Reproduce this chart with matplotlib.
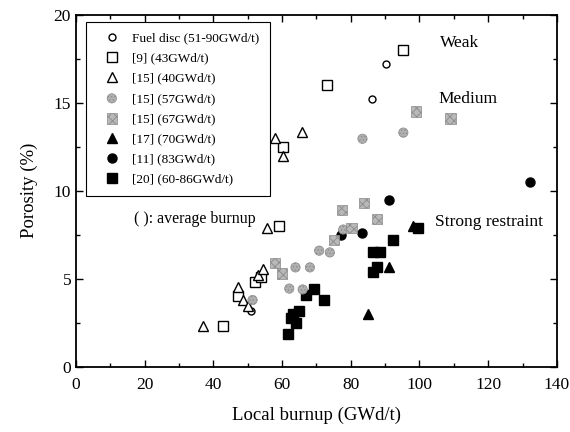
import numpy as np
import matplotlib
matplotlib.use('Agg')
import matplotlib.pyplot as plt
from matplotlib.ticker import MultipleLocator

plt.rcParams['font.family'] = ['Liberation Serif', 'DejaVu Serif']
plt.rcParams['hatch.linewidth'] = 0.6

# fuel disc (51-90GWd/t)
disc_x = [51.0, 86.3, 90.2]
disc_y = [3.2, 15.2, 17.2]
# [9] (43GWd/t)
r9_x = [42.9, 47.1, 52.1, 54.0, 59.1, 60.3, 73.2, 95.3]
r9_y = [2.3, 4.0, 4.8, 5.1, 8.0, 12.5, 16.0, 18.0]
# [15] (40GWd/t)
r15a_x = [37.1, 47.2, 48.5, 50.2, 53.1, 54.5, 55.7, 57.9, 60.2, 65.7]
r15a_y = [2.35, 4.55, 3.8, 3.45, 5.2, 5.55, 7.9, 13.0, 12.0, 13.35]
# [15] (57GWd/t)
r15b_x = [51.4, 62.1, 66.0, 63.9, 68.1, 70.8, 73.9, 77.8, 83.4, 95.3]
r15b_y = [3.8, 4.45, 4.4, 5.65, 5.65, 6.6, 6.5, 7.8, 12.95, 13.3]
# [15] (67GWd/t)
r15c_x = [57.9, 59.9, 75.1, 77.5, 80.2, 83.8, 87.6, 99.0, 109.0]
r15c_y = [5.9, 5.3, 7.2, 8.9, 7.9, 9.3, 8.4, 14.5, 14.1]
# [17] (70GWd/t)
r17_x = [85.1, 91.2, 98.0]
r17_y = [3.0, 5.7, 8.0]
# [11] (83GWd/t)
r11_x = [77.2, 83.2, 91.2, 132.1]
r11_y = [7.5, 7.6, 9.5, 10.5]
# [20] (60-86GWd/t)
r20_x = [61.8, 62.5, 63.2, 64.0, 65.0, 66.9, 69.3, 72.3, 86.5, 87.5, 86.5, 88.5, 92.2, 99.6]
r20_y = [1.85, 2.8, 3.0, 2.5, 3.2, 4.1, 4.4, 3.8, 5.4, 5.7, 6.55, 6.55, 7.2, 7.9]

fig = plt.figure(figsize=(5.7, 4.32), dpi=100)
ax = fig.add_axes([0.1333, 0.1505, 0.8437, 0.8159])

ax.plot(disc_x, disc_y, 'o', ms=5, mfc='white', mec='black', mew=1.0, ls='none',
        label='Fuel disc (51-90GWd/t)')
ax.plot(r9_x, r9_y, 's', ms=7, mfc='white', mec='black', mew=1.0, ls='none',
        label='[9] (43GWd/t)')
ax.plot(r15a_x, r15a_y, '^', ms=7, mfc='white', mec='black', mew=1.0, ls='none',
        label='[15] (40GWd/t)')
ax.scatter(r15b_x, r15b_y, s=45, marker='o', facecolor='#b0b0b0', edgecolor='#8a8a8a',
           hatch='.....', lw=0.5, label='[15] (57GWd/t)', zorder=3)
ax.scatter(r15c_x, r15c_y, s=55, marker='s', facecolor='#b8b8b8', edgecolor='#8a8a8a',
           hatch='xxxx', lw=0.5, label='[15] (67GWd/t)', zorder=3)
ax.plot(r17_x, r17_y, '^', ms=7, mfc='black', mec='black', ls='none',
        label='[17] (70GWd/t)')
ax.plot(r11_x, r11_y, 'o', ms=6.5, mfc='black', mec='black', ls='none',
        label='[11] (83GWd/t)')
ax.plot(r20_x, r20_y, 's', ms=7.5, mfc='black', mec='black', ls='none',
        label='[20] (60-86GWd/t)')

ax.set_xlim(0, 140)
ax.set_ylim(0, 20)
ax.xaxis.set_major_locator(MultipleLocator(20))
ax.xaxis.set_minor_locator(MultipleLocator(10))
ax.yaxis.set_major_locator(MultipleLocator(5))
ax.yaxis.set_minor_locator(MultipleLocator(2.5))
ax.tick_params(which='both', direction='in', top=True, right=True, labelsize=12.5)
ax.tick_params(which='major', length=5, width=1)
ax.tick_params(which='minor', length=3, width=1)
ax.tick_params(axis='x', pad=7)
for sp in ax.spines.values():
    sp.set_linewidth(1.3)

ax.set_xlabel('Local burnup (GWd/t)', fontsize=13.5, labelpad=10)
ax.set_ylabel('Porosity (%)', fontsize=13.5, labelpad=11)

leg = ax.legend(loc='upper left', bbox_to_anchor=(0.021, 0.98), fontsize=9.5,
                frameon=True, fancybox=False, edgecolor='black', framealpha=1,
                borderpad=0.8, labelspacing=0.6, handletextpad=0.4,
                handlelength=2.3, borderaxespad=0)
leg.get_frame().set_linewidth(0.8)

ax.text(17, 8.4, '( ): average burnup', fontsize=11.5, va='center')
ax.text(106, 18.4, 'Weak', fontsize=12.5, va='center')
ax.text(105.4, 15.2, 'Medium', fontsize=12.5, va='center')
ax.text(104.5, 8.2, 'Strong restraint', fontsize=12.5, va='center')

fig.savefig('out.png', dpi=100)
